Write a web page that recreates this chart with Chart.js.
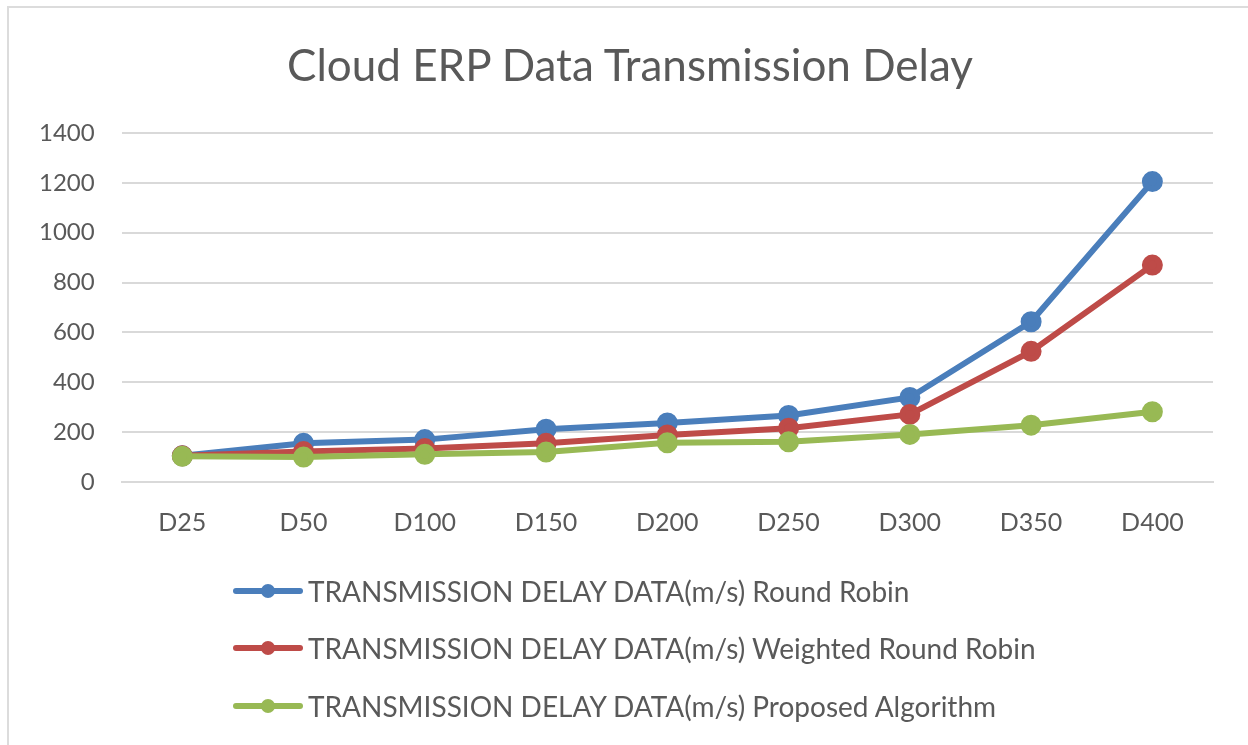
<!DOCTYPE html>
<html>
<head>
<meta charset="utf-8">
<script src="https://cdn.jsdelivr.net/npm/chart.js@4"></script>
<style>
    body { margin: 0; background: #fff; font-family: Lato, "Open Sans", sans-serif; }
    #wrap { width: 1248px; height: 745px; position: relative; overflow: hidden; }
    #frame { position: absolute; left: 7px; top: 6px; width: 1260px; height: 760px; border-top: 2px solid #DCDCDC; border-left: 2px solid #DCDCDC; }
    #title { position: absolute; left: 0; top: 38px; width: 1260px; text-align: center; font-size: 44px; line-height: 53px; color: #595959; }
    #chart-box { position: relative; width: 1248px; height: 566px; }
    #legend { position: absolute; left: 233px; top: 562px; }
    .row { display: flex; align-items: center; height: 57.5px; }
    .key { position: relative; width: 70px; height: 6px; border-radius: 3px; margin-right: 5px; }
    .key span { position: absolute; left: 28px; top: -4px; width: 14px; height: 14px; border-radius: 50%; }
    .row label { font-size: 28px; color: #595959; white-space: nowrap; }
</style>
</head>
<body>
<div id="wrap">
    <div id="frame"></div>
    <div id="chart-box"><canvas id="delay-chart"></canvas></div>
    <div id="title">Cloud ERP Data Transmission Delay</div>
    <div id="legend"></div>
</div>
<script>
// Categories and series
const categories = ['D25', 'D50', 'D100', 'D150', 'D200', 'D250', 'D300', 'D350', 'D400'];
const roundRobin = [105, 155, 170, 212, 237, 267, 339, 643, 1205];
const weightedRoundRobin = [105, 122, 134, 155, 189, 216, 271, 524, 870];
const proposedAlgorithm = [103, 100, 111, 120, 157, 161, 191, 228, 282];
const seriesNames = [
    'TRANSMISSION DELAY DATA(m/s) Round Robin',
    'TRANSMISSION DELAY DATA(m/s) Weighted Round Robin',
    'TRANSMISSION DELAY DATA(m/s) Proposed Algorithm'
];
const colors = ['#4A7EBB', '#BE4B48', '#98B954'];

function makeSet(i, values) {
    return {
        label: seriesNames[i],
        data: values,
        borderColor: colors[i],
        backgroundColor: colors[i],
        borderWidth: 6,
        pointRadius: 7.5,
        pointHoverRadius: 7.5,
        tension: 0,
        order: 3 - i // green on top like the original
    };
}

const ctx = document.getElementById('delay-chart').getContext('2d');
new Chart(ctx, {
    type: 'line',
    data: {
        labels: categories,
        datasets: [
            makeSet(0, roundRobin),
            makeSet(1, weightedRoundRobin),
            makeSet(2, proposedAlgorithm)
        ]
    },
    options: {
        responsive: true,
        maintainAspectRatio: false,
        animation: false,
        // title is drawn as html above, so the top padding holds its space
        layout: { padding: { left: 12, right: 35, top: 133, bottom: 10 } },
        plugins: {
            legend: { display: false },
            tooltip: { enabled: false }
        },
        scales: {
            x: {
                offset: true,
                grid: { display: false },
                border: { color: '#D9D9D9', width: 2 },
                ticks: { color: '#595959', font: { family: 'Lato', size: 25 }, padding: 18 }
            },
            y: {
                min: 0,
                max: 1400,
                ticks: {
                    stepSize: 200,
                    color: '#595959',
                    font: { family: 'Lato', size: 24 },
                    padding: 27,
                    callback: value => String(value)
                },
                grid: { color: '#D9D9D9', lineWidth: 2, drawTicks: false },
                border: { display: false }
            }
        }
    }
});

// Legend stacked at the bottom, left aligned like the original
const legend = document.getElementById('legend');
seriesNames.forEach((name, i) => {
    const row = document.createElement('div');
    row.className = 'row';
    row.innerHTML = `<div class="key" style="background:${colors[i]}"><span style="background:${colors[i]}"></span></div><label>${name}</label>`;
    legend.appendChild(row);
});
</script>
</body>
</html>
